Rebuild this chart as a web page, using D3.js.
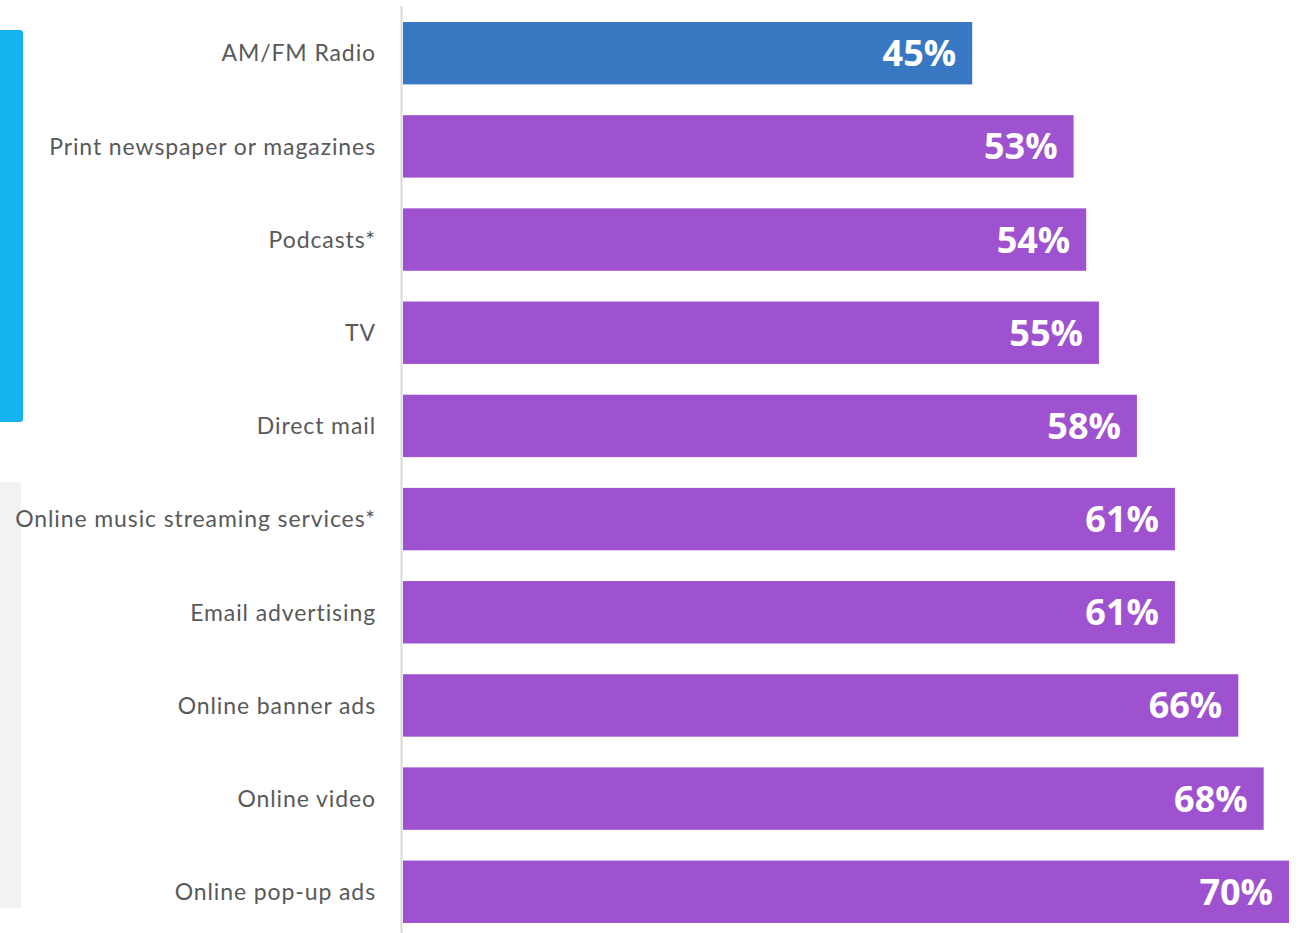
<!DOCTYPE html>
<html>
<head>
<meta charset="utf-8">
<script src="https://cdn.jsdelivr.net/npm/d3@7/dist/d3.min.js"></script>
<style>
  html, body { margin: 0; padding: 0; background: #fff; }
  svg { display: block; }
</style>
</head>
<body>
<svg id="chart" width="1299" height="933"></svg>
<script>
// Channels and share of respondents (%)
const categories = [
  "AM/FM Radio",
  "Print newspaper or magazines",
  "Podcasts*",
  "TV",
  "Direct mail",
  "Online music streaming services*",
  "Email advertising",
  "Online banner ads",
  "Online video",
  "Online pop-up ads"
];
const values = [45, 53, 54, 55, 58, 61, 61, 66, 68, 70];
const highlighted = ["AM/FM Radio"];

const svg = d3.select("#chart");
const W = 1299, H = 933;

const x = d3.scaleLinear().domain([0, 70]).range([402, 1289]);
const y = d3.scaleBand().domain(categories).range([22, 923]).paddingInner(0.33).paddingOuter(0);

// side group markers
svg.append("rect").attr("x", -4).attr("y", 30).attr("width", 27).attr("height", 392)
  .attr("rx", 3).attr("fill", "#14b4f0");
svg.append("rect").attr("x", 0).attr("y", 482).attr("width", 21).attr("height", 426)
  .attr("fill", "#f2f2f2");

// baseline axis
svg.append("line").attr("x1", 401.5).attr("x2", 401.5).attr("y1", 6).attr("y2", H)
  .attr("stroke", "#d9d9d9").attr("stroke-width", 2);

const data = categories.map((c, i) => ({ c, v: values[i] }));

svg.selectAll("rect.bar").data(data).join("rect")
  .attr("class", "bar")
  .attr("x", x(0) + 1)
  .attr("y", d => y(d.c))
  .attr("width", d => x(d.v) - x(0) - 1)
  .attr("height", y.bandwidth())
  .attr("fill", d => highlighted.includes(d.c) ? "#3878c3" : "#9e52d0");

svg.selectAll("text.val").data(data).join("text")
  .attr("class", "val")
  .attr("x", d => x(d.v) - 16)
  .attr("y", d => y(d.c) + y.bandwidth() / 2)
  .attr("dy", "0.36em")
  .attr("text-anchor", "end")
  .attr("fill", "#fff")
  .attr("font-family", "'Open Sans', sans-serif")
  .attr("font-weight", "bold")
  .attr("font-size", 36)
  .text(d => d.v + "%");

svg.selectAll("text.cat").data(data).join("text")
  .attr("class", "cat")
  .attr("x", 376)
  .attr("y", d => y(d.c) + y.bandwidth() / 2)
  .attr("dy", "0.36em")
  .attr("text-anchor", "end")
  .attr("fill", "#595959")
  .attr("font-family", "Lato, sans-serif")
  .attr("font-size", 23)
  .attr("letter-spacing", 0.9)
  .text(d => d.c);
</script>
</body>
</html>
